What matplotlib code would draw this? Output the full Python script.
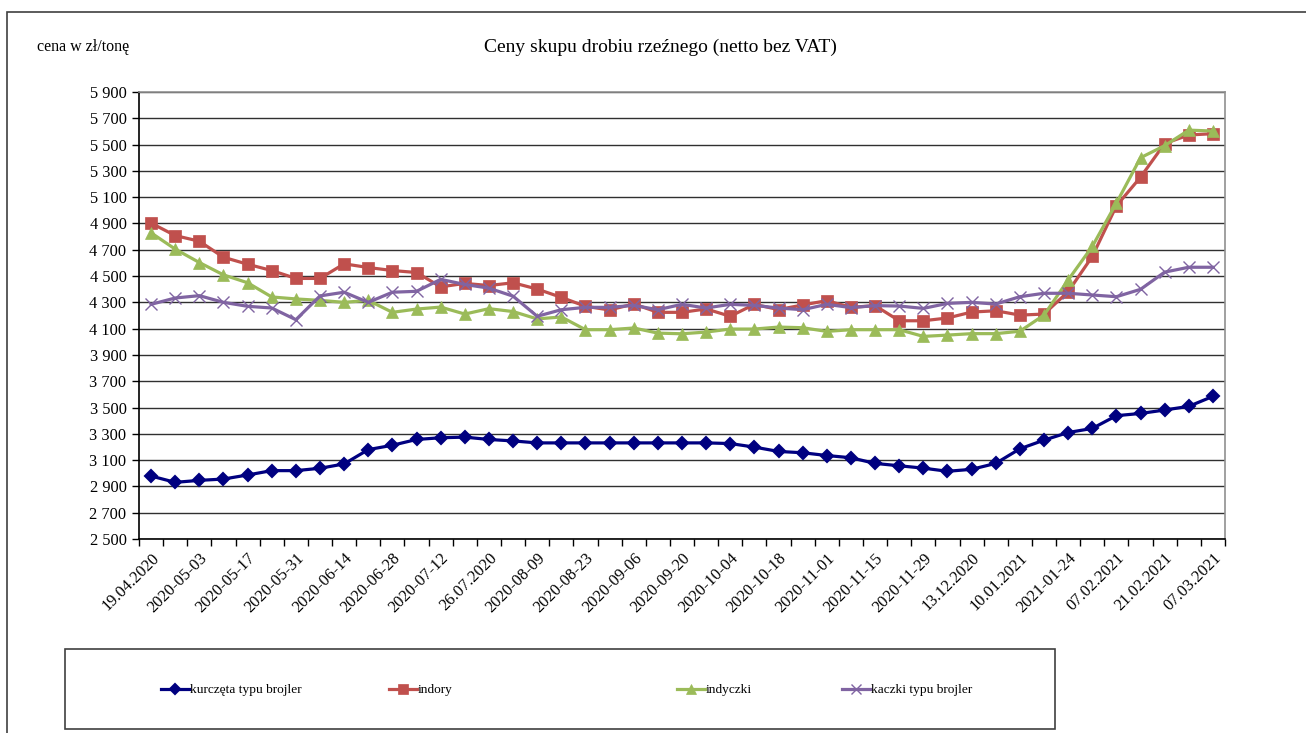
import matplotlib.pyplot as plt
from matplotlib.patches import Rectangle
import numpy as np

plt.rcParams['font.family'] = ['Liberation Serif', 'DejaVu Serif']

# weekly notowania, 45 punktow (co drugi podpisany)
tick_labels = ["19.04.2020", "2020-05-03", "2020-05-17", "2020-05-31", "2020-06-14",
               "2020-06-28", "2020-07-12", "26.07.2020", "2020-08-09", "2020-08-23",
               "2020-09-06", "2020-09-20", "2020-10-04", "2020-10-18", "2020-11-01",
               "2020-11-15", "2020-11-29", "13.12.2020", "10.01.2021", "2021-01-24",
               "07.02.2021", "21.02.2021", "07.03.2021"]

kurczeta = [2979, 2931, 2946, 2956, 2987, 3020, 3020, 3038, 3071, 3180,
            3213, 3257, 3270, 3275, 3257, 3246, 3231, 3231, 3231, 3231,
            3231, 3231, 3231, 3231, 3226, 3199, 3166, 3156, 3135, 3118,
            3075, 3057, 3039, 3015, 3030, 3075, 3186, 3252, 3310, 3341,
            3438, 3455, 3481, 3509, 3585]

indory = [4903, 4808, 4765, 4643, 4590, 4542, 4482, 4482, 4593, 4565,
          4542, 4527, 4418, 4444, 4428, 4449, 4401, 4338, 4270, 4242,
          4288, 4224, 4224, 4250, 4194, 4285, 4245, 4280, 4313, 4262,
          4275, 4160, 4160, 4181, 4226, 4236, 4203, 4211, 4381, 4649,
          5034, 5252, 5508, 5573, 5583]

indyczki = [4829, 4705, 4603, 4509, 4449, 4341, 4326, 4315, 4300, 4315,
            4224, 4249, 4264, 4211, 4252, 4230, 4174, 4189, 4092, 4092,
            4105, 4066, 4061, 4074, 4097, 4097, 4112, 4107, 4079, 4092,
            4092, 4092, 4041, 4051, 4062, 4062, 4080, 4203, 4470, 4725,
            5055, 5400, 5492, 5610, 5603]

kaczki = [4285, 4333, 4351, 4300, 4270, 4257, 4168, 4349, 4377, 4300,
          4377, 4384, 4475, 4436, 4408, 4347, 4194, 4244, 4262, 4262,
          4277, 4244, 4285, 4257, 4285, 4277, 4257, 4244, 4285, 4260,
          4275, 4272, 4254, 4292, 4300, 4287, 4343, 4369, 4369, 4356,
          4343, 4399, 4530, 4567, 4567]

W, H = 1306, 733
fig = plt.figure(figsize=(W / 100, H / 100), dpi=100)

# ramka wykresu
fig.patches.append(Rectangle((7 / W, -0.1), 1.2, 1 - 12 / H + 0.1, transform=fig.transFigure,
                             fill=False, edgecolor='#404040', linewidth=1.2))

ax = fig.add_axes([139 / W, 1 - 539 / H, (1225 - 139) / W, (539 - 92) / H])
x = np.arange(len(kurczeta))

series = [
    (kurczeta, "kurczęta typu brojler", '#000080', 'D', 6, 1.5),
    (indory, "indory", '#C0504D', 's', 8, 0),
    (indyczki, "indyczki", '#9BBB59', '^', 8, 0),
    (kaczki, "kaczki typu brojler", '#8064A2', 'x', 8, 1.0),
]
handles = []
for vals, name, col, mk, ms, mew in series:
    h, = ax.plot(x, vals, color=col, linewidth=2.3, marker=mk, markersize=ms,
                 markeredgewidth=mew if mew else 0.5, markeredgecolor=col,
                 markerfacecolor=col, label=name, zorder=3)
    handles.append(h)

ax.set_xlim(-0.5, len(x) - 0.5)
ax.set_ylim(2500, 5900)
yt = np.arange(2500, 5901, 200)
ax.set_yticks(yt)
ax.set_yticklabels([f"{v // 1000} {v % 1000:03d}" for v in yt], fontsize=11.8)
ax.yaxis.grid(True, color='#303030', linewidth=1)
ax.set_axisbelow(True)

ax.set_xticks(x[::2])
ax.set_xticklabels(tick_labels, rotation=45, ha='right', rotation_mode='anchor', fontsize=11.8)
ax.set_xticks(np.arange(-0.5, len(x), 1), minor=True)
ax.tick_params(axis='x', which='major', length=0, pad=8)
ax.tick_params(axis='x', which='minor', length=5, width=1, direction='out')
ax.tick_params(axis='y', length=5, width=1, direction='out', pad=4)

for s in ['top', 'right']:
    ax.spines[s].set_color('#909090')
    ax.spines[s].set_linewidth(1.2)
for s in ['left', 'bottom']:
    ax.spines[s].set_color('black')
    ax.spines[s].set_linewidth(1.2)

fig.text(37 / W, 1 - 47 / H, "cena w zł/tonę", fontsize=11.5, va='center', ha='left')
fig.text(660 / W, 1 - 47 / H, "Ceny skupu drobiu rzeźnego (netto bez VAT)",
         fontsize=14, va='center', ha='center')

# legenda
fig.patches.append(Rectangle((65 / W, 1 - 729 / H), (1055 - 65) / W, (729 - 649) / H,
                             transform=fig.transFigure, fill=False,
                             edgecolor='#404040', linewidth=1.2))
leg_x = [161, 389, 677, 842]
for h, lx in zip(handles, leg_x):
    fig.legend(handles=[h], loc='center left', bbox_to_anchor=(lx / W, 1 - 690 / H),
               frameon=False, fontsize=9.6, handlelength=2.1, handletextpad=0.05,
               borderpad=0, borderaxespad=0, markerscale=0.9)

plt.savefig("out.png", dpi=100)
plt.close()
